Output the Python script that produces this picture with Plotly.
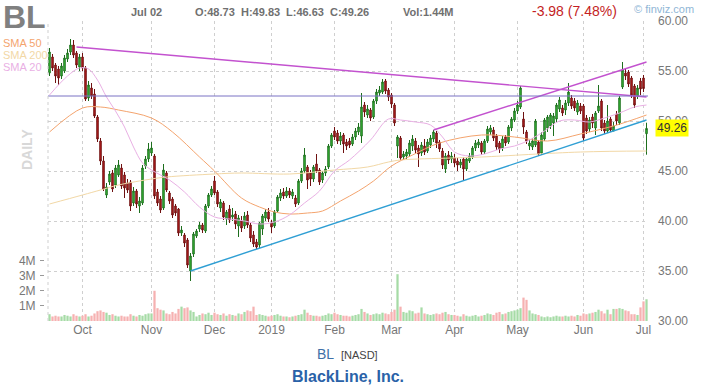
import plotly.graph_objects as go
import pandas as pd

# ---------------- trading calendar ----------------
holidays = ["2018-11-22", "2018-12-05", "2018-12-25", "2019-01-01",
            "2019-01-21", "2019-02-18", "2019-04-19", "2019-05-27"]
dates = [d.strftime("%Y-%m-%d") for d in pd.bdate_range("2018-09-14", "2019-07-02")
         if d.strftime("%Y-%m-%d") not in holidays]

# ---------------- OHLC ----------------
open_ = [
    54.8, 56.4, 55.6, 55.2, 54.5, 55.0, 56.2, 56.9, 57.6, 56.8, 55.4,
    56.4, 55.3, 52.3, 53.3, 52.7, 50.4, 48.0, 46.0, 42.6, 43.9, 44.8, 43.6, 44.6, 45.3, 44.6, 43.8, 43.9, 41.8, 43.0, 41.5, 41.8, 45.5, 46.2,
    46.8, 46.5, 42.9, 42.2, 41.3, 44.8, 42.8, 42.2, 41.5, 41.2, 38.8, 38.6, 38.1, 35.0, 36.7, 38.5, 39.2, 39.6, 39.0, 41.5, 42.6,
    44.0, 42.9, 41.3, 41.8, 40.2, 41.2, 40.4, 40.7, 39.5, 40.0, 39.5, 40.6, 39.6, 38.6, 37.9, 37.6, 39.2, 40.3, 40.9,
    39.8, 39.5, 41.0, 42.3, 42.9, 42.5, 43.0, 42.5, 42.3, 41.8, 44.0, 45.0, 45.4, 44.8, 44.2, 45.7, 45.1, 44.1, 44.8, 45.4, 47.5,
    49.0, 48.8, 48.0, 48.6, 47.9, 48.0, 47.7, 48.4, 48.9, 48.5, 51.6, 50.6, 51.1, 50.4, 52.0, 52.8, 52.9, 54.0, 53.1,
    52.6, 51.6, 47.5, 48.3, 46.4, 46.5, 46.7, 47.5, 48.0, 47.3, 46.8, 47.5, 47.0, 47.6, 48.2, 48.8, 47.9, 47.0, 45.2, 46.6, 46.2,
    46.3, 46.0, 45.6, 46.2, 45.2, 46.0, 46.4, 47.3, 47.6, 47.8, 46.9, 48.0, 48.9, 49.1, 48.5, 47.8, 47.3, 48.4, 47.9, 49.3, 50.1,
    51.0, 51.4, 50.2, 48.9, 47.5, 47.4, 47.6, 47.9, 46.8, 48.2, 49.3, 49.5, 49.8, 50.2, 51.2, 51.3, 51.1, 51.8, 52.3, 52.0, 50.9, 51.5,
    51.5, 50.3, 49.2, 50.4, 49.3, 51.0, 52.0, 49.8, 49.0, 50.2, 49.0, 50.7, 49.8, 53.4, 54.8, 54.9, 54.3, 53.5, 52.5, 54.0,
    54.3, 48.73,
]
high = [
    57.3, 56.7, 55.8, 55.5, 55.8, 56.6, 57.2, 58.2, 58.1, 57.0, 56.7,
    56.8, 55.5, 54.0, 53.8, 53.2, 50.6, 48.3, 46.5, 43.8, 45.0, 45.1, 45.6, 46.1, 45.7, 44.9, 44.2, 44.1, 43.4, 43.2, 42.4, 45.6, 46.5, 47.8,
    47.9, 46.7, 43.2, 42.5, 45.7, 45.0, 43.0, 42.4, 41.7, 41.3, 39.5, 38.8, 38.3, 36.8, 38.9, 39.2, 39.9, 39.8, 41.7, 42.8, 43.5,
    44.5, 43.1, 42.2, 42.0, 41.1, 41.6, 41.3, 41.0, 40.6, 40.5, 40.9, 41.0, 39.8, 39.0, 38.2, 39.9, 40.7, 41.2, 41.3,
    40.1, 41.1, 42.6, 43.2, 43.3, 43.4, 43.3, 43.2, 42.6, 44.2, 45.3, 47.3, 45.6, 45.1, 45.6, 46.7, 45.3, 45.0, 45.5, 47.7, 48.8,
    49.4, 49.1, 48.9, 48.8, 48.2, 48.3, 48.7, 49.3, 49.8, 52.8, 51.9, 51.6, 51.3, 52.2, 53.2, 53.5, 54.2, 54.2, 53.3,
    52.8, 51.8, 48.6, 48.5, 47.0, 47.2, 48.1, 48.6, 48.3, 47.6, 47.9, 48.2, 48.2, 48.6, 49.1, 49.0, 48.1, 47.3, 46.8, 47.0, 46.9,
    46.7, 46.3, 46.2, 46.4, 46.4, 46.8, 47.5, 48.1, 48.2, 48.0, 48.2, 49.5, 49.6, 49.4, 48.7, 48.0, 48.5, 48.6, 49.6, 50.4, 51.3,
    52.0, 53.5, 50.9, 49.1, 48.1, 48.3, 50.2, 48.1, 48.9, 50.3, 50.6, 50.8, 50.8, 51.8, 52.4, 51.6, 52.1, 53.8, 52.6, 52.3, 52.1, 51.8,
    51.7, 50.6, 50.4, 50.7, 51.0, 53.6, 52.2, 50.1, 51.6, 50.4, 49.9, 51.0, 52.5, 55.9, 55.2, 55.1, 54.5, 53.7, 53.6, 54.3,
    54.6, 49.83,
]
low = [
    54.5, 55.0, 53.8, 53.6, 54.2, 54.8, 55.9, 56.6, 56.3, 55.3, 55.0,
    55.0, 52.0, 52.0, 52.2, 50.3, 47.9, 45.6, 43.0, 42.3, 43.6, 42.9, 43.3, 44.4, 43.2, 42.3, 42.8, 41.0, 41.5, 41.3, 40.8, 41.6, 45.2, 45.9,
    46.5, 42.2, 41.5, 40.8, 41.1, 42.9, 41.7, 40.3, 40.5, 38.5, 38.5, 37.4, 35.3, 34.0, 36.4, 38.3, 38.9, 38.8, 38.8, 41.3, 42.4,
    42.6, 41.4, 40.9, 40.1, 39.6, 39.8, 40.0, 39.2, 38.4, 38.9, 39.2, 39.3, 37.9, 37.4, 37.2, 37.3, 38.6, 40.0, 39.9,
    38.8, 39.3, 40.8, 42.0, 42.2, 42.3, 42.3, 42.2, 41.4, 41.6, 43.8, 44.8, 43.2, 43.5, 43.9, 44.8, 43.6, 43.8, 44.5, 45.2, 47.3,
    48.1, 47.7, 47.6, 46.8, 47.1, 47.3, 47.5, 48.1, 48.6, 47.8, 50.4, 50.3, 50.0, 50.2, 51.7, 52.5, 52.7, 52.7, 52.0,
    51.3, 49.5, 46.3, 46.1, 46.1, 46.2, 46.4, 47.0, 46.8, 45.4, 46.5, 46.6, 46.8, 47.3, 47.9, 47.3, 46.9, 45.2, 44.8, 45.7, 45.8,
    45.4, 45.0, 45.3, 44.1, 45.0, 45.8, 46.2, 47.0, 47.3, 46.6, 46.7, 47.8, 48.6, 48.0, 47.1, 46.8, 47.0, 47.5, 47.7, 49.0, 49.9,
    50.7, 51.2, 48.7, 47.7, 47.1, 47.1, 47.4, 46.5, 46.6, 48.0, 48.9, 49.2, 48.5, 49.9, 50.9, 50.5, 50.6, 51.5, 51.2, 51.0, 50.6, 50.7,
    48.0, 48.7, 48.9, 49.3, 48.6, 50.8, 49.0, 48.7, 48.8, 48.9, 49.0, 49.6, 49.6, 53.2, 54.1, 53.4, 52.3, 51.3, 52.2, 52.6,
    52.9, 46.63,
]
close = [
    56.9, 55.3, 54.5, 54.3, 55.5, 56.3, 56.8, 57.6, 56.6, 55.6, 56.4,
    55.3, 52.2, 53.6, 52.5, 50.5, 48.2, 46.0, 43.2, 43.4, 44.7, 43.2, 45.3, 45.6, 43.5, 43.3, 43.1, 41.5, 43.0, 41.7, 42.0, 45.3, 46.2, 47.2,
    47.3, 42.5, 41.8, 41.1, 45.1, 43.1, 42.0, 40.6, 40.8, 38.8, 39.1, 37.8, 35.6, 36.5, 38.7, 39.0, 39.6, 39.1, 41.5, 42.6, 43.2,
    42.8, 41.7, 41.9, 40.4, 40.9, 40.1, 40.6, 39.7, 40.3, 39.3, 40.5, 39.6, 38.3, 37.7, 37.4, 39.8, 40.5, 40.9, 40.2,
    39.4, 40.9, 42.4, 42.8, 42.5, 43.0, 42.6, 42.9, 41.7, 44.0, 45.0, 46.6, 44.1, 44.2, 45.4, 45.0, 43.9, 44.8, 45.2, 47.5, 48.6,
    48.4, 48.0, 48.5, 47.7, 47.5, 47.6, 48.4, 49.0, 49.4, 51.4, 50.9, 51.2, 50.3, 52.0, 52.9, 53.1, 53.9, 53.0, 52.4,
    51.7, 49.8, 48.4, 46.3, 46.7, 46.9, 47.8, 48.2, 47.1, 46.7, 47.6, 46.9, 47.9, 48.3, 48.9, 47.8, 47.2, 45.6, 46.5, 46.1, 46.5,
    45.8, 45.6, 45.9, 45.2, 46.2, 46.5, 47.3, 47.8, 47.9, 46.9, 48.0, 49.2, 49.3, 48.3, 47.4, 47.2, 48.2, 47.8, 49.4, 50.2, 51.0,
    51.6, 53.3, 49.4, 48.0, 47.8, 48.0, 50.0, 46.7, 48.6, 50.1, 50.4, 50.6, 50.5, 51.6, 52.1, 50.8, 51.8, 52.9, 51.5, 51.3, 51.8, 51.0,
    48.3, 49.0, 50.1, 49.8, 50.8, 51.5, 49.3, 49.0, 50.0, 49.1, 49.5, 50.0, 52.3, 55.1, 54.5, 53.7, 52.6, 51.6, 53.3, 53.2,
    53.24, 49.26,
]
volume_m = [
    0.45, 0.3, 0.35, 0.3, 0.3, 0.4, 0.35, 0.3, 0.45, 0.35, 0.3,
    0.35, 0.45, 0.3, 0.35, 0.5, 0.65, 0.7, 0.6, 0.55, 0.4, 0.45, 0.35, 0.3, 0.35, 0.3, 0.3, 0.45, 0.35, 0.3, 0.4, 0.35, 0.45, 0.5,
    0.5, 2.0, 0.85, 0.75, 0.7, 0.5, 0.45, 0.6, 0.5, 0.8, 0.95, 0.85, 0.9, 0.7, 0.6, 0.3, 0.4, 0.5, 0.45, 0.55, 0.4,
    0.55, 0.45, 0.4, 0.5, 0.35, 0.45, 0.4, 0.35, 0.5, 0.45, 0.6, 0.7, 0.65, 0.95, 0.4, 0.45, 0.4, 0.35, 0.3,
    0.35, 0.4, 0.45, 0.35, 0.3, 0.3, 0.25, 0.3, 0.35, 0.4, 0.45, 0.75, 0.55, 0.4, 0.35, 0.35, 0.3, 0.35, 0.4, 0.5, 0.45,
    0.55, 0.45, 0.4, 0.35, 0.35, 0.3, 0.35, 0.4, 0.45, 0.8, 0.6, 0.5, 0.4, 0.45, 0.5, 0.45, 0.55, 0.5, 0.45,
    0.6, 0.75, 3.1, 0.95, 0.6, 0.55, 0.7, 0.65, 0.5, 0.55, 0.9, 0.5, 0.45, 0.4, 0.45, 0.5, 0.45, 0.55, 0.6, 0.45, 0.4,
    0.4, 0.35, 0.3, 0.45, 0.35, 0.3, 0.35, 0.4, 0.3, 0.35, 0.4, 0.5, 0.45, 0.4, 0.55, 0.6, 0.45, 0.5, 0.6, 0.65, 0.7,
    0.75, 0.85, 1.55, 1.4, 0.7, 0.5, 0.45, 0.4, 0.3, 0.25, 0.3, 0.25, 0.3, 0.35, 0.3, 0.3, 0.35, 0.3, 0.35, 0.3, 0.4, 0.35,
    0.5, 0.45, 0.5, 0.55, 0.6, 0.75, 0.65, 0.5, 0.75, 0.45, 0.8, 0.8, 0.85, 0.8, 0.7, 0.65, 0.45, 0.45, 0.4, 0.9,
    1.3, 1.44,
]
assert len(dates) == len(open_) == len(high) == len(low) == len(close) == len(volume_m) == 200

# ---------------- moving averages ----------------
sma20_dates = ["2018-09-14", "2018-09-24", "2018-09-28", "2018-10-03", "2018-10-08", "2018-10-11",
               "2018-10-16", "2018-10-19", "2018-10-24", "2018-10-29", "2018-11-01", "2018-11-09",
               "2018-11-16", "2018-11-26", "2018-12-03", "2018-12-11", "2018-12-18", "2018-12-26",
               "2019-01-03", "2019-01-10", "2019-01-17", "2019-01-25", "2019-02-01", "2019-02-08",
               "2019-02-20", "2019-02-28", "2019-03-06", "2019-03-13", "2019-03-20", "2019-03-26",
               "2019-04-01", "2019-04-08", "2019-04-15", "2019-04-23", "2019-04-30", "2019-05-07",
               "2019-05-14", "2019-05-21", "2019-05-29", "2019-06-05", "2019-06-12", "2019-06-19",
               "2019-06-26", "2019-07-02"]
sma20_vals = [52.6, 54.5, 55.3, 55.2, 54.1, 52.4, 51.0, 49.4, 47.4, 45.8, 45.1, 44.1,
              42.9, 41.4, 40.4, 40.2, 40.0, 39.7, 39.9, 40.6, 41.8, 43.0, 45.0, 46.1,
              48.1, 50.2, 50.1, 49.9, 49.6, 48.4, 46.9, 46.5, 46.7, 47.2, 47.5, 48.1,
              49.0, 50.0, 50.1, 49.9, 50.3, 50.8, 51.4, 51.6]
sma50_dates = ["2018-09-14", "2018-10-01", "2018-10-09", "2018-10-17", "2018-11-01", "2018-11-12",
               "2018-11-26", "2018-12-03", "2018-12-17", "2018-12-26", "2019-01-03", "2019-01-10",
               "2019-01-18", "2019-01-28", "2019-02-05", "2019-02-13", "2019-02-21", "2019-03-01",
               "2019-03-12", "2019-03-25", "2019-04-12", "2019-04-30", "2019-05-15", "2019-05-31",
               "2019-06-17", "2019-07-02"]
sma50_vals = [48.9, 51.3, 51.4, 51.1, 50.3, 48.9, 46.4, 45.0, 42.3, 41.4, 40.9, 40.7,
              40.8, 41.0, 42.0, 43.0, 44.0, 45.5, 46.6, 47.8, 48.6, 48.4, 48.0, 48.7,
              49.5, 50.6]
sma200_dates = ["2018-09-14", "2018-10-01", "2018-10-09", "2018-10-17", "2018-11-01", "2018-11-08",
                "2018-12-03", "2018-12-17", "2019-01-10", "2019-02-01", "2019-02-19", "2019-02-28",
                "2019-03-06", "2019-03-29", "2019-04-12", "2019-05-31", "2019-07-02"]
sma200_vals = [41.7, 42.6, 43.1, 43.6, 44.2, 44.4, 44.7, 44.8, 44.7, 45.1, 45.4, 45.9,
               46.1, 46.3, 46.4, 46.9, 47.0]

# ---------------- trend lines ----------------
down_line_dates, down_line_vals = ["2018-09-27", "2019-07-02"], [57.4, 52.4]
up_line_dates, up_line_vals = ["2019-03-21", "2019-07-02"], [49.1, 55.9]
support_dates, support_vals = ["2018-11-20", "2019-07-02"], [35.0, 50.1]
level_line = 52.5

month_ticks = ["2018-10-01", "2018-11-01", "2018-12-03", "2019-01-02", "2019-02-01",
               "2019-03-01", "2019-04-01", "2019-05-01", "2019-06-03", "2019-07-01"]
month_labels = ["Oct", "Nov", "Dec", "2019", "Feb", "Mar", "Apr", "May", "Jun", "Jul"]
price_ticks = [30, 35, 40, 45, 50, 55, 60]
vol_ticks = [1, 2, 3, 4]
vol_labels = ["1M", "2M", "3M", "4M"]

# ---------------- figure ----------------
W, H = 724, 389
ML, MR, MT, MB = 44, 76, 21, 68
PW, PH = W - ML - MR, H - MT - MB


def px(x):
    return (x - ML) / PW


def py(y):
    return (H - MB - y) / PH


FONT = "Liberation Sans, Arial, sans-serif"
GRID = "#cfcfcf"

fig = go.Figure()

vol_colors = ["#a6dba6" if c >= o else "#f6b1b1" for o, c in zip(open_, close)]
fig.add_trace(go.Bar(x=dates, y=volume_m, marker=dict(color=vol_colors, line=dict(width=0)),
                     yaxis="y", hoverinfo="skip", showlegend=False))

fig.add_trace(go.Scatter(x=sma200_dates, y=sma200_vals, yaxis="y2", mode="lines",
                         line=dict(color="#f2d8a6", width=1, shape="spline"), hoverinfo="skip"))
fig.add_trace(go.Scatter(x=sma50_dates, y=sma50_vals, yaxis="y2", mode="lines",
                         line=dict(color="#f4a46e", width=1, shape="spline"), hoverinfo="skip"))
fig.add_trace(go.Scatter(x=sma20_dates, y=sma20_vals, yaxis="y2", mode="lines",
                         line=dict(color="#e9b0e4", width=1, shape="spline"), hoverinfo="skip"))

fig.add_trace(go.Scatter(x=down_line_dates, y=down_line_vals, yaxis="y2", mode="lines",
                         line=dict(color="#c352cf", width=1.4), hoverinfo="skip"))
fig.add_trace(go.Scatter(x=up_line_dates, y=up_line_vals, yaxis="y2", mode="lines",
                         line=dict(color="#c352cf", width=1.4), hoverinfo="skip"))
fig.add_trace(go.Scatter(x=support_dates, y=support_vals, yaxis="y2", mode="lines",
                         line=dict(color="#2f9fd4", width=1.4), hoverinfo="skip"))

fig.add_trace(go.Candlestick(
    x=dates, open=open_, high=high, low=low, close=close, yaxis="y2",
    increasing=dict(fillcolor="#3ccc3c", line=dict(color="#1d6e1d", width=1)),
    decreasing=dict(fillcolor="#c81e1e", line=dict(color="#6e1010", width=1)),
    whiskerwidth=0, hoverinfo="skip", showlegend=False))

fig.add_shape(type="line", xref="x domain", x0=0, x1=1, yref="y2", y0=level_line, y1=level_line,
              line=dict(color="#7a72c4", width=1))
fig.add_shape(type="line", xref="x domain", x0=0, x1=0, yref="y domain", y0=0, y1=1,
              line=dict(color=GRID, width=1, dash="3px,3px"))

ann = []


def text(x, y, s, size, color, anchor="left", bold=False, angle=0, yanchor="middle"):
    ann.append(dict(x=px(x), y=py(y), xref="paper", yref="paper", text=f"<b>{s}</b>" if bold else s,
                    showarrow=False, xanchor=anchor, yanchor=yanchor, textangle=angle,
                    font=dict(family=FONT, size=size, color=color)))


text(1, 17, "BL", 32, "#808080", bold=True)
text(1, 43, "SMA 50", 11, "#f4a46e")
text(1, 55, "SMA 200", 11, "#f2d8a6")
text(1, 67, "SMA 20", 11, "#e9b0e4")
text(27, 150, "DAILY", 14, "#d8d8d8", anchor="center", bold=True, angle=-90)
text(129, 12, "Jul 02", 11, "#707070", bold=True)
text(193, 12, "O:48.73", 11, "#707070", bold=True)
text(239, 12, "H:49.83", 11, "#707070", bold=True)
text(284, 12, "L:46.63", 11, "#707070", bold=True)
text(328, 12, "C:49.26", 11, "#707070", bold=True)
text(401, 12, "Vol:1.44M", 11, "#707070", bold=True)
text(574, 11, "-3.98 (7.48%)", 14, "#c41e24", anchor="center")
text(632, 9, "© finviz.com", 11, "#8fb6d6")
text(336, 354, "BL", 14, "#3f70a8", anchor="right")
text(339, 355, "[NASD]", 11, "#444444")
text(348, 376, "BlackLine, Inc.", 16, "#2a62a8", anchor="center", bold=True)

ann.append(dict(x=1, y=close[-1], xref="paper", yref="y2", text=f"{close[-1]:.2f}", showarrow=False,
                xanchor="left", yanchor="middle", xshift=7, bgcolor="#ffff00", borderpad=1,
                font=dict(family=FONT, size=12, color="#333333")))

fig.update_layout(
    width=W, height=H, margin=dict(l=ML, r=MR, t=MT, b=MB, pad=0),
    paper_bgcolor="white", plot_bgcolor="white", showlegend=False,
    font=dict(family=FONT, size=12, color="#777777"),
    bargap=0.25, boxgap=0.3,
    annotations=ann,
    xaxis=dict(type="category", domain=[4 / PW, 1], range=[-0.5, len(dates) - 0.5],
               tickmode="array", tickvals=month_ticks, ticktext=month_labels,
               showgrid=True, gridcolor=GRID, griddash="3px,3px", gridwidth=1,
               ticks="", showline=False, zeroline=False, rangeslider=dict(visible=False),
               tickfont=dict(family=FONT, size=12, color="#777777"), fixedrange=True),
    yaxis=dict(range=[0, PH / 15.1], tickmode="array", tickvals=vol_ticks, ticktext=vol_labels,
               side="left", anchor="free", position=0, showgrid=False, zeroline=False,
               ticks="outside", ticklen=4, tickcolor="#999999", ticklabelstandoff=2,
               tickfont=dict(family=FONT, size=12, color="#777777"), fixedrange=True),
    yaxis2=dict(range=[30, 60], overlaying="y", side="right", anchor="x",
                tickmode="array", tickvals=price_ticks, tickformat=".2f",
                showgrid=True, gridcolor=GRID, griddash="3px,3px", gridwidth=1,
                ticks="", ticklabelstandoff=9, zeroline=False, showline=False,
                tickfont=dict(family=FONT, size=12, color="#777777"), fixedrange=True),
)

fig.write_html("out.html")
